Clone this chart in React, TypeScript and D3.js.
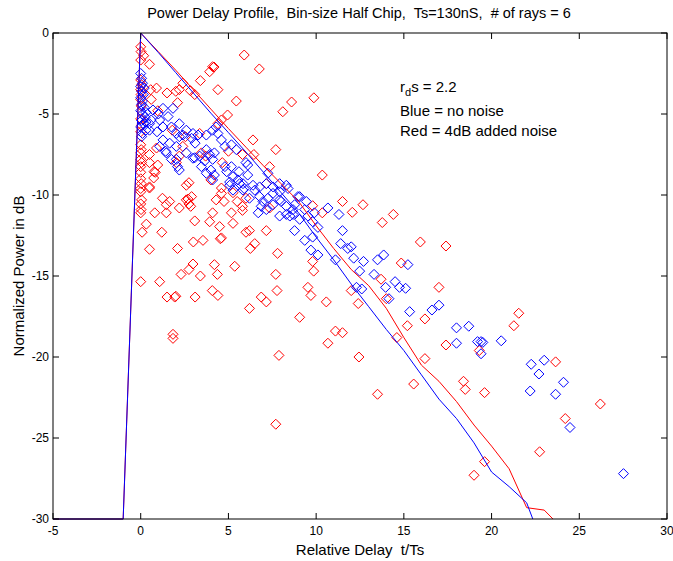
import React from 'react';
import * as d3 from 'd3';

// power delay profile data (x = t/Ts, y = dB)
const redPoints: [number, number][] = [
  [0, -0.85], [0.02, -1.15], [0.17, -1.4], [0, -1.67], [0.5, -1.93], [0, -2.9], [0.05, -3.2], [0, -3.5],
  [0.02, -3.8], [0, -4.1], [0.03, -4.5], [0, -5.3], [0.05, -5.7], [0, -6.1], [0, -6.9], [0.03, -7.2],
  [0, -7.4], [0, -7.8], [0.05, -8.0], [0, -8.25], [0, -8.6], [0, -9.0], [0.03, -9.3], [0, -9.6],
  [0, -9.8], [0.05, -10.3], [0, -10.55], [0.02, -10.9], [0, -11.1], [0.08, -12.3], [0, -15.35],
  [5.9, -1.36], [6.76, -2.22], [4.1, -2.08], [3.93, -2.39], [4.18, -2.1], [3.4, -2.94], [2.4, -3.1],
  [2.2, -3.5], [2.83, -3.56], [3.08, -3.8], [4.4, -3.5], [2.0, -3.6], [1.5, -3.7], [0.9, -3.4],
  [0.57, -3.5], [5.45, -4.2], [8.6, -4.26], [8.1, -4.86], [9.87, -4.0], [4.95, -5.06], [4.6, -5.37],
  [4.4, -5.6], [2.1, -4.3], [0.6, -4.1], [0.97, -4.8], [6.4, -6.6], [7.7, -7.2], [5.8, -7.5], [6.45, -7.5],
  [7.35, -8.25], [5.0, -7.3], [3.36, -6.2], [2.55, -6.4], [2.4, -7.0], [1.8, -6.0], [0.9, -7.1], [0.5, -7.5],
  [0.97, -8.15], [0.83, -8.6], [0.74, -8.95], [0.5, -9.57], [2.03, -8.0], [2.2, -7.6], [2.6, -9.4],
  [4.6, -9.57], [4.3, -10.3], [4.6, -9.9], [1.24, -10.2], [1.46, -10.6], [1.65, -10.4], [2.2, -10.8],
  [2.6, -10.3], [0.8, -11.1], [1.46, -11.1], [4.1, -11.1], [5.17, -11.1], [5.8, -10.7], [6.0, -10.2],
  [7.35, -10.8], [3.46, -7.4], [3.7, -7.6], [4.65, -8.0], [4.0, -9.07], [5.26, -9.86], [2.75, -9.24],
  [2.7, -10.25], [2.9, -10.1], [2.85, -10.7], [0.76, -8.56], [0.5, -8.0], [0.5, -9.5], [7.16, -9.3],
  [10.35, -8.77], [0.32, -11.8], [1.2, -12.3], [2.75, -10.55], [3.08, -11.6], [3.93, -11.65], [4.75, -10.4],
  [5.5, -10.4], [5.8, -10.95], [5.26, -11.75], [4.5, -11.95], [6.2, -12.2], [6.0, -12.3], [7.16, -12.2],
  [3.0, -12.9], [3.55, -12.8], [2.1, -13.3], [0.5, -13.35], [4.54, -12.7], [4.6, -12.65], [6.5, -13.0],
  [6.25, -13.3], [7.8, -13.6], [9.8, -14.1], [9.86, -14.7], [10.35, -11.1], [2.98, -14.26], [2.75, -14.6],
  [2.3, -14.9], [3.4, -15.0], [4.2, -14.3], [4.37, -14.9], [5.36, -14.4], [7.7, -14.9], [1.08, -15.35],
  [1.5, -16.3], [1.94, -16.3], [2.0, -16.25], [3.1, -16.3], [4.08, -15.9], [4.4, -16.2], [6.2, -17.0],
  [6.87, -16.3], [7.16, -16.6], [7.77, -15.9], [9.53, -15.7], [9.7, -16.2], [9.06, -17.55], [10.58, -16.6],
  [1.84, -18.6], [1.84, -18.85], [7.88, -19.9], [11.5, -10.4], [12.67, -10.6], [12.06, -11.07],
  [14.4, -11.2], [13.77, -11.7], [9.8, -10.66], [15.94, -12.9], [17.4, -13.15], [14.85, -14.2],
  [13.7, -15.2], [17.0, -15.7], [14.0, -16.4], [12.0, -15.9], [12.4, -16.7], [16.2, -17.65], [15.2, -18.07],
  [14.6, -18.8], [17.4, -19.26], [16.2, -20.1], [11.1, -18.4], [11.5, -18.5], [10.67, -19.15], [12.44, -20.0],
  [15.56, -21.67], [13.5, -22.3], [18.4, -21.5], [18.5, -22.0], [21.55, -17.3], [21.27, -18.07], [19.3, -19.6],
  [23.65, -20.3], [19.6, -22.2], [7.7, -24.15], [19.6, -26.46], [19.0, -27.3], [22.74, -25.85], [24.2, -23.8],
  [26.2, -22.9],
];

const bluePoints: [number, number][] = [
  [0, -2.5], [0.05, -2.8], [0.1, -3.1], [0, -3.3], [0.05, -3.6], [0.15, -3.8], [0, -4.0], [0.1, -4.2],
  [0.05, -4.4], [0.2, -4.6], [0, -4.8], [0.1, -5.0], [0.25, -5.2], [0.05, -5.4], [0.15, -5.6], [0, -5.8],
  [0.3, -6.0], [0.1, -6.2], [0.05, -6.4], [0.3, -4.9], [0.3, -5.5], [0.2, -3.4],
  [0.6, -5.37], [0.7, -4.75], [1.27, -4.65], [1.84, -4.65], [1.56, -5.16], [1.08, -5.37], [0.5, -6.0],
  [0.93, -6.1], [1.27, -5.8], [1.75, -5.8], [2.2, -5.6], [2.03, -6.2], [2.4, -6.3], [2.98, -6.2],
  [3.27, -6.3], [2.9, -6.5], [3.74, -6.3], [4.1, -6.0], [4.3, -5.8], [4.6, -6.6], [3.74, -7.2],
  [3.93, -7.5], [4.1, -7.8], [3.36, -7.6], [3.46, -8.25], [4.0, -8.46], [4.2, -8.77], [4.1, -9.07],
  [2.98, -7.73], [2.6, -7.4], [2.03, -7.0], [1.65, -6.8], [1.46, -7.4], [2.03, -7.8], [2.1, -8.25],
  [2.2, -8.46], [1.08, -7.0], [4.8, -8.25], [4.9, -8.56], [5.17, -8.25], [5.26, -8.87], [5.07, -9.2],
  [5.6, -8.56], [5.64, -9.3], [6.1, -8.77], [6.1, -8.15], [5.26, -9.7], [5.83, -9.7], [6.4, -9.4],
  [6.78, -9.5], [7.16, -9.3], [7.54, -9.5], [7.92, -9.3], [8.3, -9.4], [6.78, -10.1], [6.97, -10.4],
  [7.25, -10.2], [7.54, -9.9], [6.87, -10.7], [7.16, -10.9], [6.7, -11.1], [7.92, -10.3], [8.3, -10.7],
  [8.68, -10.9], [8.96, -10.1], [8.3, -11.2], [5.45, -7.2], [5.17, -6.9], [6.0, -8.0], [5.83, -9.3],
  [5.9, -9.6], [6.5, -9.7], [6.2, -10.2], [7.25, -8.66], [8.4, -9.6], [7.92, -9.8], [7.54, -10.6],
  [8.0, -10.4], [8.77, -10.6], [9.06, -10.1], [9.44, -10.4], [7.92, -11.3], [8.68, -11.2], [10.67, -10.8],
  [9.35, -10.9], [9.53, -11.3], [8.5, -11.3], [9.06, -11.5], [8.77, -12.2], [9.9, -11.1], [9.8, -11.65],
  [9.35, -12.8], [9.8, -12.6], [10.1, -12.0], [11.3, -11.2], [11.5, -12.2], [9.7, -13.4], [10.1, -13.7],
  [11.1, -14.0], [11.4, -13.0], [11.8, -13.3], [12.0, -13.2], [12.14, -13.9], [12.7, -14.1], [12.48, -14.7],
  [13.5, -14.0], [13.85, -13.7], [13.3, -14.9], [15.23, -14.3], [12.3, -15.7], [12.6, -15.8], [13.96, -15.7],
  [14.15, -16.4], [14.5, -15.35], [14.75, -15.7], [15.1, -15.76], [15.33, -17.2], [16.6, -17.1], [17.0, -16.8],
  [18.0, -18.2], [18.7, -18.1], [18.0, -19.15], [19.2, -19.05], [19.4, -19.05], [19.5, -19.1], [19.4, -19.8],
  [20.55, -19.0], [22.26, -20.45], [23.0, -20.2], [22.7, -21.05], [24.1, -21.56], [22.2, -22.1],
  [23.65, -22.3], [24.47, -24.35], [27.52, -27.2],
  [1.27, -6.6], [2.2, -6.4], [1.42, -7.3], [1.75, -7.8], [3.08, -7.7], [3.65, -7.9], [4.2, -7.4],
  [3.74, -8.66], [5.54, -9.07], [5.07, -9.4], [0.5, -5.6], [1.0, -5.0], [2.6, -6.0], [3.1, -6.8],
  [4.4, -6.2], [4.8, -7.0],
];

// fitted profile lines
const redLineX = [-5, -1, 0, 1, 2, 3, 4, 5, 6, 7, 8, 9, 10, 11, 12, 13, 14, 15, 16, 17, 18, 19, 20, 21, 22, 23, 23.5];
const redLineY = [-30, -30, 0, -1.15, -2.3, -3.5, -4.7, -5.9, -7.05, -8.2, -9.3, -10.4, -11.9, -13.3, -14.6, -15.6, -17.0, -18.8, -20.5, -21.5, -22.75, -24.2, -25.5, -26.9, -29.3, -29.45, -30];
const blueLineX = [-5, -1, 0, 1, 2, 3, 4, 5, 6, 7, 8, 9, 10, 11, 12, 13, 14, 15, 16, 17, 18, 19, 20, 21, 22, 22.35];
const blueLineY = [-30, -30, 0, -1.2, -2.45, -3.7, -4.95, -6.15, -7.35, -8.6, -9.85, -11.1, -12.6, -14.0, -15.5, -16.9, -18.3, -19.6, -21.1, -22.6, -23.8, -25.3, -27.1, -28.0, -29.0, -30];

const xTicks = [-5, 0, 5, 10, 15, 20, 25, 30];
const yTicks = [-30, -25, -20, -15, -10, -5, 0];

const W = 673;
const H = 561;
const m = { left: 53, right: 667, top: 33, bottom: 519 };
const font = '"Liberation Sans", Arial, sans-serif';

export default function App() {
  const x = d3.scaleLinear().domain([-5, 30]).range([m.left, m.right]);
  const y = d3.scaleLinear().domain([-30, 0]).range([m.bottom, m.top]);

  const line = d3.line<[number, number]>().x(d => x(d[0])).y(d => y(d[1]));
  const redLine = line(redLineX.map((v, i) => [v, redLineY[i]] as [number, number])) || '';
  const blueLine = line(blueLineX.map((v, i) => [v, blueLineY[i]] as [number, number])) || '';

  const r = 5;
  const diamond = `M0,${-r}L${r},0L0,${r}L${-r},0Z`;
  const tick = 6;

  return (
    <svg width={W} height={H} style={{ position: 'absolute', left: 0, top: 0, background: '#fff' }} fontFamily={font}>
      <rect x={0} y={0} width={W} height={H} fill="#fff" />
      {/* markers */}
      <g fill="none" stroke="#ff0000" strokeWidth={1}>
        {redPoints.map((p, i) => (
          <path key={i} d={diamond} transform={`translate(${x(p[0])},${y(p[1])})`} />
        ))}
      </g>
      <g fill="none" stroke="#0000ff" strokeWidth={1}>
        {bluePoints.map((p, i) => (
          <path key={i} d={diamond} transform={`translate(${x(p[0])},${y(p[1])})`} />
        ))}
      </g>
      <path d={redLine} fill="none" stroke="#ff0000" strokeWidth={1} />
      <path d={blueLine} fill="none" stroke="#0000ff" strokeWidth={1} />

      {/* axes box */}
      <rect x={m.left} y={m.top} width={m.right - m.left} height={m.bottom - m.top} fill="none" stroke="#000" strokeWidth={1} />
      {xTicks.map(t => (
        <g key={'x' + t}>
          <line x1={x(t)} x2={x(t)} y1={m.bottom} y2={m.bottom - tick} stroke="#000" />
          <line x1={x(t)} x2={x(t)} y1={m.top} y2={m.top + tick} stroke="#000" />
          <text x={x(t)} y={m.bottom + 16} fontSize={12} textAnchor="middle">{t}</text>
        </g>
      ))}
      {yTicks.map(t => (
        <g key={'y' + t}>
          <line x1={m.left} x2={m.left + tick} y1={y(t)} y2={y(t)} stroke="#000" />
          <line x1={m.right} x2={m.right - tick} y1={y(t)} y2={y(t)} stroke="#000" />
          <text x={m.left - 4} y={y(t) + 4} fontSize={12} textAnchor="end">{t}</text>
        </g>
      ))}

      <text x={359} y={18} fontSize={14.5} textAnchor="middle" style={{ whiteSpace: 'pre' }}>
        {'Power Delay Profile,  Bin-size Half Chip,  Ts=130nS,  # of rays = 6'}
      </text>
      <text x={360} y={555} fontSize={15} textAnchor="middle" style={{ whiteSpace: 'pre' }}>
        {'Relative Delay  t/Ts'}
      </text>
      <text transform={`translate(24,${(m.top + m.bottom) / 2}) rotate(-90)`} fontSize={15} textAnchor="middle">
        Normalized Power in dB
      </text>

      <text x={400} y={92} fontSize={15}>
        r<tspan dy={4} fontSize={11}>d</tspan><tspan dy={-4}>s = 2.2</tspan>
      </text>
      <text x={400} y={116} fontSize={15}>Blue = no noise</text>
      <text x={400} y={136} fontSize={15}>Red = 4dB added noise</text>
    </svg>
  );
}
